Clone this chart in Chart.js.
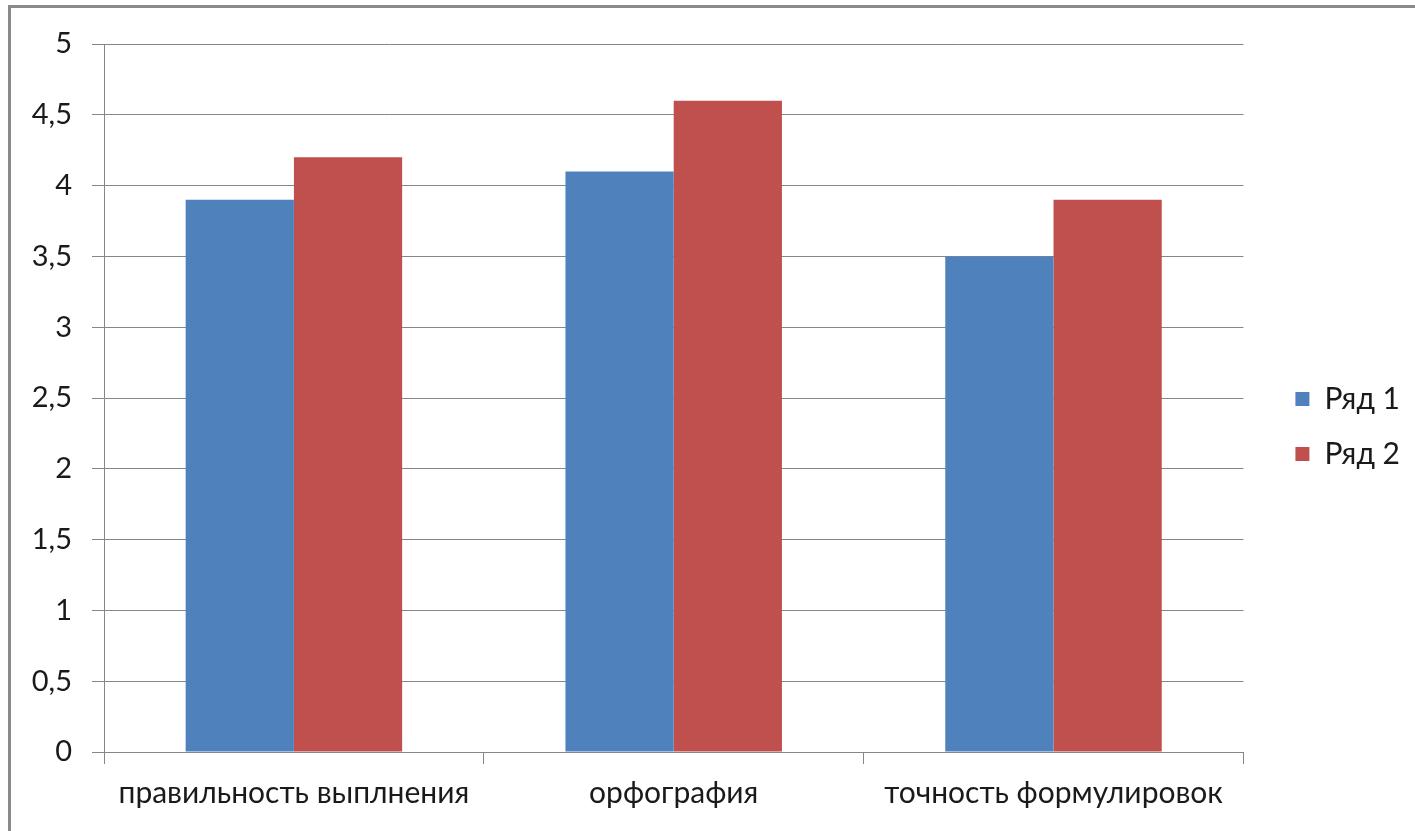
<!DOCTYPE html>
<html>
<head>
<meta charset="utf-8">
<script src="https://cdn.jsdelivr.net/npm/chart.js@4"></script>
<style>
  html, body { margin: 0; padding: 0; background: #fff; }
  #wrap { position: relative; width: 1415px; height: 831px; }
  #frame {
    position: absolute; left: 8px; top: 5px; right: -4px; bottom: -4px;
    border-left: 3px solid #8a8a8a; border-top: 3px solid #8a8a8a;
    pointer-events: none;
  }
</style>
</head>
<body>
<div id="wrap">
  <canvas id="chart" width="1415" height="831"></canvas>
  <div id="frame"></div>
</div>
<script>
// данные диаграммы
const categories = ['правильность выплнения', 'орфография', 'точность формулировок'];
const seriesNames = ['Ряд 1', 'Ряд 2'];
const row1 = [3.9, 4.1, 3.5];
const row2 = [4.2, 4.6, 3.9];
const yMin = 0, yMax = 5, yStep = 0.5;

const blue = '#4f81bd';
const red = '#c0504d';
const axisGray = '#868686';

const ctx = document.getElementById('chart').getContext('2d');
const chart = new Chart(ctx, {
    type: 'bar',
    data: {
        labels: categories,
        datasets: [{
            label: seriesNames[0],
            data: row1,
            backgroundColor: blue,
            borderWidth: 0
        }, {
            label: seriesNames[1],
            data: row2,
            backgroundColor: red,
            borderWidth: 0
        }]
    },
    options: {
        responsive: false,
        animation: false,
        layout: {
            padding: { left: 20, top: 44, right: 5, bottom: 22 }
        },
        datasets: {
            bar: { categoryPercentage: 0.57, barPercentage: 1 }
        },
        plugins: {
            legend: {
                position: 'right',
                labels: {
                    boxWidth: 14,
                    boxHeight: 14,
                    padding: 25,
                    color: '#1a1a1a',
                    font: { family: 'Lato', size: 30 }
                }
            },
            tooltip: { enabled: false }
        },
        scales: {
            x: {
                afterFit: s => { s.height = 57; },
                grid: {
                    offset: true,
                    drawOnChartArea: false,
                    color: axisGray,
                    tickLength: 12
                },
                border: { color: axisGray, width: 1 },
                ticks: {
                    color: '#1a1a1a',
                    padding: 11,
                    font: { family: 'Lato', size: 30 }
                }
            },
            y: {
                min: yMin,
                max: yMax,
                afterFit: s => { s.width = 84; },
                grid: { color: axisGray, tickLength: 12 },
                border: { color: axisGray, width: 1 },
                ticks: {
                    stepSize: yStep,
                    color: '#1a1a1a',
                    padding: 20,
                    font: { family: 'Lato', size: 29 },
                    callback: v => String(v).replace('.', ',')
                }
            },
            // пустая ось справа - просто отступ между графиком и легендой
            gap: {
                type: 'linear',
                position: 'right',
                afterFit: s => { s.width = 27; },
                grid: { display: false },
                border: { display: false },
                ticks: { display: false }
            }
        }
    }
});
</script>
</body>
</html>
